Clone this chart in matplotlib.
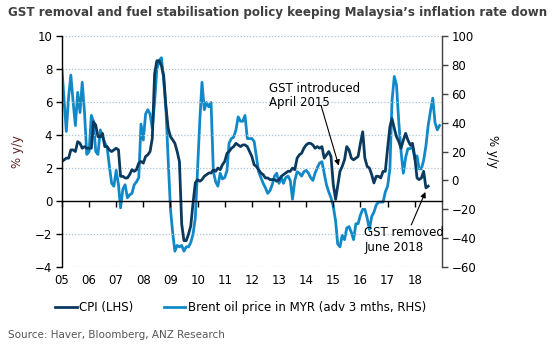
import matplotlib
matplotlib.use("Agg")
import matplotlib.pyplot as plt
import pandas as pd

# CPI y/y (%), monthly Jan 2005 - Jul 2018, left axis
cpi = [
    2.4, 2.5, 2.6, 2.6, 3.1, 3.1, 3.0, 3.6, 3.5, 3.2, 3.3, 3.2,   # 2005
    3.2, 3.2, 4.8, 4.6, 3.9, 3.9, 4.1, 3.3, 3.3, 3.1, 3.0, 3.1,   # 2006
    3.2, 3.1, 1.5, 1.5, 1.4, 1.4, 1.6, 1.9, 1.8, 1.9, 2.3, 2.4,   # 2007
    2.3, 2.7, 2.8, 3.0, 3.8, 7.7, 8.5, 8.5, 8.2, 7.6, 5.7, 4.4,   # 2008
    3.9, 3.7, 3.5, 3.0, 2.4, -1.4, -2.4, -2.4, -2.0, -1.5, -0.1, 1.1,  # 2009
    1.3, 1.2, 1.3, 1.5, 1.6, 1.7, 1.7, 1.9, 1.8, 2.0, 1.9, 2.2,   # 2010
    2.4, 2.9, 3.0, 3.2, 3.3, 3.5, 3.4, 3.3, 3.4, 3.4, 3.3, 3.0,   # 2011
    2.7, 2.2, 2.1, 1.9, 1.7, 1.6, 1.4, 1.4, 1.3, 1.3, 1.3, 1.2,   # 2012
    1.3, 1.5, 1.6, 1.7, 1.8, 1.8, 2.0, 1.9, 2.6, 2.8, 2.9, 3.2,   # 2013
    3.4, 3.5, 3.5, 3.4, 3.2, 3.3, 3.2, 3.3, 2.6, 2.8, 3.0, 2.7,   # 2014
    1.0, 0.1, 0.9, 1.8, 2.1, 2.5, 3.3, 3.1, 2.6, 2.5, 2.6, 2.7,   # 2015
    3.5, 4.2, 2.6, 2.1, 2.0, 1.6, 1.1, 1.5, 1.5, 1.4, 1.8, 1.8,   # 2016
    3.2, 4.5, 5.0, 4.4, 3.9, 3.6, 3.2, 3.7, 4.1, 3.7, 3.4, 3.5,   # 2017
    2.7, 1.4, 1.3, 1.4, 1.8, 0.8, 0.9,                            # 2018
]

# Brent oil price in MYR, y/y (%), advanced 3 months, Jan 2005 - Dec 2018, right axis
brent = [
    77, 54, 34, 58, 73, 54, 38, 61, 47, 68, 47, 18,
    20, 45, 41, 20, 18, 35, 30, 26, 23, 10, -2, -4,
    7, -3, -19, -6, -3, -12, -10, -9, -3, -1, 2, 39,
    28, 46, 49, 46, 36, 54, 77, 83, 85, 70, 49, 14,
    -20, -37, -49, -45, -46, -45, -49, -46, -46, -43, -37, -26,
    9, 43, 68, 49, 54, 51, 54, 6, -1, -4, 5, 1,
    2, 7, 26, 29, 30, 35, 44, 41, 41, 45, 29, 29,
    29, 27, 17, 6, 2, -2, -5, -9, -7, -3, 3, 5,
    -2, 2, -2, 2, 3, 0, -13, 0, 6, 5, 3, 6,
    7, 5, 2, 0, 5, 9, 12, 13, 5, -3, -8, -12,
    -18, -28, -44, -46, -38, -41, -33, -32, -36, -41, -30, -30,
    -24, -20, -20, -26, -34, -25, -22, -17, -15, -15, -15, -8,
    -4, 8, 55, 72, 66, 40, 20, 5, 16, 22, 22, 24,
    15, 17, 8, 8, 14, 24, 38, 48, 57, 40, 35, 38,
]

years = list(range(2005, 2019))
year_labels = [f"{y % 100:02d}" for y in years]

cpi_dates = pd.date_range("2005-01-01", periods=len(cpi), freq="MS")
brent_dates = pd.date_range("2005-01-01", periods=len(brent), freq="MS")
year_ticks = [pd.Timestamp(f"{y}-01-01") for y in years]

dark_blue = "#0b3a5f"
light_blue = "#1189c9"

fig = plt.figure(figsize=(5.53, 3.5), dpi=100)
ax = fig.add_axes([0.112, 0.237, 0.687, 0.66])
ax2 = ax.twinx()

ax.set_zorder(ax2.get_zorder() + 1)
ax.patch.set_visible(False)

ax2.plot(brent_dates, brent, color=light_blue, lw=2.0, solid_joinstyle="round")
ax.plot(cpi_dates, cpi, color=dark_blue, lw=2.0, solid_joinstyle="round")

ax.set_xlim(pd.Timestamp("2005-01-01"), pd.Timestamp("2019-01-01"))
ax.set_ylim(-4, 10)
ax2.set_ylim(-60, 100)
ax.set_yticks(range(-4, 11, 2))
ax2.set_yticks(range(-60, 101, 20))

# dotted gridlines
for v in [-4, -2, 2, 4, 6, 8, 10]:
    ax.axhline(v, color="#a9c4d4", lw=0.9, ls=(0, (1, 1.5)), zorder=0)

# spines
for s in ["top", "right"]:
    ax.spines[s].set_visible(False)
ax.spines["bottom"].set_position(("data", 0))
ax.spines["bottom"].set_linewidth(1.0)
ax.spines["left"].set_linewidth(1.0)
for s in ["top", "left", "bottom"]:
    ax2.spines[s].set_visible(False)
ax2.spines["right"].set_color("#404040")
ax2.spines["right"].set_linewidth(1.0)

ax.set_xticks(year_ticks)
ax.tick_params(axis="x", direction="out", length=4, width=1, labelbottom=False)
ax.tick_params(axis="y", direction="out", length=4, width=1, labelsize=8.5, pad=3)
ax2.tick_params(axis="y", direction="out", length=4, width=1, labelsize=8.5, pad=3,
                color="#404040")

sec = ax.secondary_xaxis("bottom")
sec.set_xticks(year_ticks)
sec.set_xticklabels(year_labels)
sec.tick_params(length=0, labelsize=8.5, pad=5)
sec.spines["bottom"].set_visible(False)

ax.set_ylabel("% y/y", fontsize=8.5, color="#5c1f1f", labelpad=8)
ax2.set_ylabel("% y/y", fontsize=8.5, rotation=270, labelpad=16)

# annotations
ax.text(pd.Timestamp("2012-08-20"), 6.4, "GST introduced\nApril 2015",
        fontsize=8.5, ha="left", va="center", linespacing=1.15)
ax.annotate("", xy=(pd.Timestamp("2015-03-15"), 2.15),
            xytext=(pd.Timestamp("2014-07-20"), 5.8),
            arrowprops=dict(arrowstyle="-|>", color="black", lw=0.8,
                            mutation_scale=8, shrinkA=0, shrinkB=0))
ax.text(pd.Timestamp("2016-02-25"), -2.35, "GST removed\nJune 2018",
        fontsize=8.5, ha="left", va="center", linespacing=1.15)
ax.annotate("", xy=(pd.Timestamp("2018-05-25"), 0.55),
            xytext=(pd.Timestamp("2017-11-15"), -1.45),
            arrowprops=dict(arrowstyle="-|>", color="black", lw=0.8,
                            mutation_scale=8, shrinkA=0, shrinkB=0))

# legend
h1 = plt.Line2D([], [], color=dark_blue, lw=2)
h2 = plt.Line2D([], [], color=light_blue, lw=2)
fig.legend([h1, h2], ["CPI (LHS)", "Brent oil price in MYR (adv 3 mths, RHS)"],
           loc="center", bbox_to_anchor=(0.435, 0.12), ncol=2, frameon=False,
           fontsize=8.5, handlelength=1.8, handletextpad=0.2, columnspacing=2.6)

fig.text(0.014, 0.965, "GST removal and fuel stabilisation policy keeping Malaysia\u2019s inflation rate down",
         fontsize=8.6, fontweight="bold", color="#404040", ha="left", va="center")
fig.text(0.014, 0.043, "Source: Haver, Bloomberg, ANZ Research",
         fontsize=7.5, color="#555555", ha="left", va="center")

fig.savefig("out.png", dpi=100)
